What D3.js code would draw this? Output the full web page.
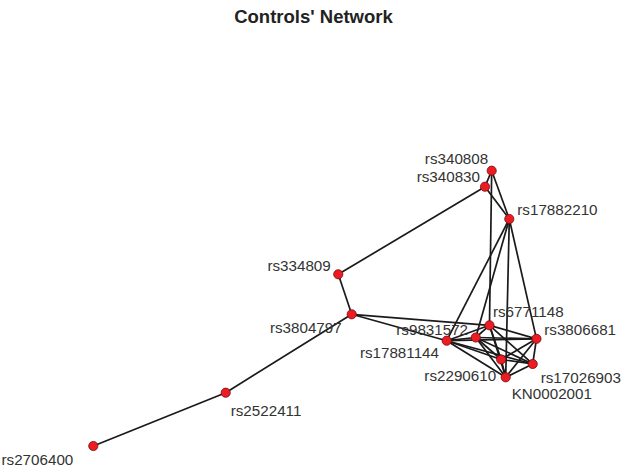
<!DOCTYPE html>
<html>
<head>
<meta charset="utf-8">
<script src="https://cdn.jsdelivr.net/npm/d3@7"></script>
<style>
  html, body { margin: 0; padding: 0; background: #fff; }
  svg { display: block; }
</style>
</head>
<body>
<svg id="chart" width="627" height="470"></svg>
<script>
// Network of SNPs among controls: node names, layout coordinates (layout units), edges.
const nodeNames = [
  "rs340808", "rs340830", "rs17882210", "rs334809", "rs3804797",
  "rs2522411", "rs2706400", "rs6771148", "rs9831572", "rs17881144",
  "rs3806681", "rs2290610", "rs17026903", "KN0002001"
];
const layoutX = [89.85, 88.34, 93.82, 55.25, 58.28, 29.86, 0.0, 89.35, 86.26, 79.70, 99.95, 91.98, 99.10, 93.01];
const layoutY = [100.0, 94.19, 82.46, 62.37, 47.84, 19.36, 0.0, 43.84, 39.41, 38.25, 38.93, 31.42, 29.79, 24.95];

const edgeSource = [
  "rs2706400", "rs2522411", "rs3804797", "rs334809", "rs340808", "rs340808", "rs340830",
  "rs340808", "rs17882210", "rs17882210", "rs17882210", "rs17882210",
  "rs3804797", "rs3804797",
  "rs17881144", "rs17881144", "rs17881144", "rs17881144", "rs17881144", "rs17881144",
  "rs9831572", "rs9831572", "rs9831572", "rs9831572", "rs9831572",
  "rs6771148", "rs6771148", "rs6771148", "rs6771148",
  "rs3806681", "rs3806681", "rs3806681",
  "rs2290610", "rs2290610", "rs17026903"
];
const edgeTarget = [
  "rs2522411", "rs3804797", "rs334809", "rs340830", "rs340830", "rs17882210", "rs17882210",
  "rs6771148", "rs3806681", "rs17881144", "rs9831572", "KN0002001",
  "rs6771148", "rs17881144",
  "rs6771148", "rs9831572", "rs3806681", "rs2290610", "rs17026903", "KN0002001",
  "rs6771148", "rs3806681", "rs2290610", "rs17026903", "KN0002001",
  "rs3806681", "rs2290610", "rs17026903", "KN0002001",
  "rs2290610", "rs17026903", "KN0002001",
  "rs17026903", "KN0002001", "KN0002001"
];

const title = "Controls' Network";

// Label placement around each vertex: offset in px, anchored away from the vertex.
const labelOffset = {
  "rs340808":  [-3.5, -6.5],
  "rs340830":  [-5, -5],
  "rs17882210": [8, -4],
  "rs334809":  [-7.5, -3.5],
  "rs3804797": [-10, 18.5],
  "rs2522411": [5, 23],
  "rs2706400": [-20, 19],
  "rs6771148": [3.5, -8.3],
  "rs9831572": [-7.7, -2.5],
  "rs17881144": [-7.7, 17.6],
  "rs3806681": [7.8, -3.8],
  "rs2290610": [-5, 21],
  "rs17026903": [8, 19.3],
  "KN0002001": [6, 22]
};

const svg = d3.select("#chart");

const x = d3.scaleLinear().domain([0, 100]).range([93.3, 536.7]);
const y = d3.scaleLinear().domain([0, 100]).range([446, 170.7]);

const nodes = nodeNames.map((name, i) => ({ name, lx: layoutX[i], ly: layoutY[i] }));
const byName = new Map(nodes.map(d => [d.name, d]));
const links = edgeSource.map((s, i) => ({ source: byName.get(s), target: byName.get(edgeTarget[i]) }));

svg.append("text")
  .attr("x", 313.5)
  .attr("y", 23)
  .attr("text-anchor", "middle")
  .attr("font-family", "Liberation Sans, Arial, Helvetica, sans-serif")
  .attr("font-weight", "bold")
  .attr("font-size", 18.5)
  .attr("fill", "#222")
  .text(title);

svg.append("g")
  .attr("stroke", "#1a1a1a")
  .attr("stroke-width", 1.7)
  .selectAll("line")
  .data(links)
  .join("line")
  .attr("x1", d => x(d.source.lx))
  .attr("y1", d => y(d.source.ly))
  .attr("x2", d => x(d.target.lx))
  .attr("y2", d => y(d.target.ly));

svg.append("g")
  .selectAll("circle")
  .data(nodes)
  .join("circle")
  .attr("cx", d => x(d.lx))
  .attr("cy", d => y(d.ly))
  .attr("r", 4.6)
  .attr("fill", "#ec1c24")
  .attr("stroke", "#7a0a0a")
  .attr("stroke-width", 0.8);

svg.append("g")
  .attr("font-family", "Liberation Sans, Arial, Helvetica, sans-serif")
  .attr("font-size", 15.2)
  .attr("fill", "#333")
  .selectAll("text")
  .data(nodes)
  .join("text")
  .attr("x", d => x(d.lx) + labelOffset[d.name][0])
  .attr("y", d => y(d.ly) + labelOffset[d.name][1])
  .attr("text-anchor", d => labelOffset[d.name][0] < 0 ? "end" : "start")
  .text(d => d.name);
</script>
</body>
</html>
